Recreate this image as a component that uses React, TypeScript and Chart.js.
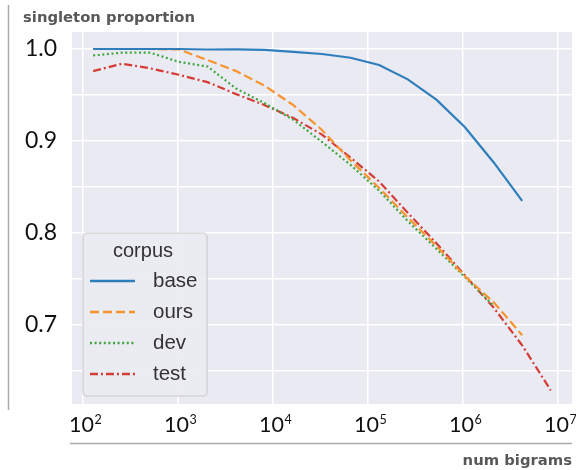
import React, { useEffect, useRef } from "react";
import { Chart, registerables } from "chart.js";

Chart.register(...registerables);

// number of bigrams (x values)
const nBigrams = [128, 256, 512, 1024, 2048, 4096, 8192, 16384, 32768, 65536, 131072, 262144, 524288, 1048576, 2097152, 4194304, 8388608];

// singleton proportion per corpus
const baseValues = [1.0, 1.0, 1.0, 1.0, 0.9995, 0.9997, 0.999, 0.997, 0.9946, 0.9905, 0.9826, 0.967, 0.945, 0.915, 0.877, 0.835];
const oursValues = [1.0, 1.0, 1.0, 0.9995, 0.988, 0.976, 0.96, 0.939, 0.912, 0.879, 0.849, 0.817, 0.786, 0.753, 0.725, 0.689];
const devValues = [0.993, 0.996, 0.996, 0.986, 0.981, 0.957, 0.941, 0.923, 0.899, 0.874, 0.846, 0.813, 0.783, 0.752, 0.721];
const testValues = [0.976, 0.984, 0.979, 0.972, 0.964, 0.951, 0.939, 0.925, 0.907, 0.882, 0.856, 0.822, 0.789, 0.754, 0.719, 0.678, 0.629];

const seriesNames = ["base", "ours", "dev", "test"];
const legendTitle = "corpus";
const yAxisTitle = "singleton proportion";
const xAxisTitle = "num bigrams";

// ticks
const xTickValues = [1e2, 1e3, 1e4, 1e5, 1e6, 1e7];
const xTickMantissa = "10";
const xTickExponents = ["2", "3", "4", "5", "6", "7"];
const yGridValues = [0.65, 0.7, 0.75, 0.8, 0.85, 0.9, 0.95, 1.0];
const yTickLabels = ["0.7", "0.8", "0.9", "1.0"];

const TICK_FONT = "Lato, 'DejaVu Sans', sans-serif";
const TITLE_FONT = "'DejaVu Sans', sans-serif";
const LEGEND_FONT = "'Liberation Sans', Arial, sans-serif";

const toPoints = (vals: number[]) => vals.map((v, i) => ({ x: nBigrams[i], y: v }));

const decorPlugin = {
  id: "decor",
  beforeDraw(chart: any) {
    const { ctx, chartArea: a } = chart;
    ctx.save();
    ctx.fillStyle = "#EAEAF2";
    ctx.fillRect(a.left, a.top, a.right - a.left, a.bottom - a.top);
    ctx.restore();
  },
  afterDraw(chart: any) {
    const { ctx, chartArea: a } = chart;
    const xs = chart.scales.x;
    ctx.save();

    // x tick labels with superscript exponents
    ctx.fillStyle = "#111";
    ctx.textBaseline = "alphabetic";
    xTickValues.forEach((v, i) => {
      const px = xs.getPixelForValue(v);
      ctx.font = `21.5px ${TICK_FONT}`;
      const w = ctx.measureText(xTickMantissa).width;
      ctx.textAlign = "left";
      ctx.fillText(xTickMantissa, px - w / 2 - 1.5, a.bottom + 28);
      ctx.font = `12.5px ${TICK_FONT}`;
      ctx.fillText(xTickExponents[i], px + w / 2 - 1, a.bottom + 20);
    });

    // axis titles
    ctx.fillStyle = "#585858";
    ctx.font = `bold 14.8px ${TITLE_FONT}`;
    ctx.textAlign = "left";
    ctx.fillText(yAxisTitle, a.left - 49, a.top - 10);
    ctx.textAlign = "right";
    ctx.fillText(xAxisTitle, a.right, a.bottom + 61);

    // decorative side lines
    ctx.strokeStyle = "#aaaaaa";
    ctx.lineWidth = 1.5;
    ctx.beginPath();
    ctx.moveTo(8.5, 5);
    ctx.lineTo(8.5, a.bottom + 6);
    ctx.stroke();
    ctx.beginPath();
    ctx.moveTo(a.left - 2, a.bottom + 39.5);
    ctx.lineTo(a.right, a.bottom + 39.5);
    ctx.stroke();

    // legend
    const lx = a.left + 11;
    const ly = a.top + 201;
    const lw = 124;
    const lh = 163;
    ctx.fillStyle = "rgba(234,234,242,0.92)";
    ctx.strokeStyle = "#cccccc";
    ctx.lineWidth = 1.2;
    ctx.beginPath();
    (ctx as any).roundRect(lx, ly, lw, lh, 4);
    ctx.fill();
    ctx.stroke();

    ctx.fillStyle = "#333";
    ctx.font = `20px ${LEGEND_FONT}`;
    ctx.textAlign = "center";
    ctx.textBaseline = "middle";
    ctx.fillText(legendTitle, lx + lw / 2 - 2, ly + 18);

    chart.data.datasets.forEach((ds: any, i: number) => {
      const cy = ly + 48 + i * 31;
      ctx.strokeStyle = ds.borderColor;
      ctx.lineWidth = ds.borderWidth + 0.3;
      ctx.setLineDash(ds.borderDash || []);
      ctx.beginPath();
      ctx.moveTo(lx + 7, cy);
      ctx.lineTo(lx + 52, cy);
      ctx.stroke();
      ctx.setLineDash([]);
      ctx.fillStyle = "#333";
      ctx.textAlign = "left";
      ctx.font = `20.5px ${LEGEND_FONT}`;
      ctx.fillText(ds.label, lx + 70, cy);
    });

    ctx.restore();
  },
};

export default function App() {
  const ref = useRef<HTMLCanvasElement | null>(null);

  useEffect(() => {
    document.body.style.margin = "0";
    if (!ref.current) return;
    const colors = ["#2f7ebc", "#f7942f", "#3fa63f", "#d43d36"];
    const dashes: number[][] = [[], [9, 4], [2, 2.6], [8, 3, 2, 3]];
    const values = [baseValues, oursValues, devValues, testValues];

    const chart = new Chart(ref.current, {
      type: "line",
      data: {
        datasets: seriesNames.map((name, i) => ({
          label: name,
          data: toPoints(values[i]),
          borderColor: colors[i],
          backgroundColor: colors[i],
          borderWidth: 2.2,
          borderDash: dashes[i],
          pointRadius: 0,
          tension: 0,
          fill: false,
        })),
      },
      options: {
        animation: false,
        responsive: false,
        devicePixelRatio: 1,
        layout: { padding: { top: 32, right: 4, left: 0, bottom: 0 } },
        plugins: {
          legend: { display: false },
          tooltip: { enabled: false },
          title: { display: false },
        },
        scales: {
          x: {
            type: "logarithmic",
            min: 76.6,
            max: 1.404e7,
            afterBuildTicks: (scale: any) => {
              scale.ticks = xTickValues.map((v) => ({ value: v }));
            },
            afterFit: (scale: any) => {
              scale.height = 66;
            },
            ticks: { display: false },
            grid: { color: "#ffffff", lineWidth: 1.5, drawTicks: false },
            border: { display: false },
          },
          y: {
            type: "linear",
            min: 0.6142,
            max: 1.0185,
            afterBuildTicks: (scale: any) => {
              scale.ticks = yGridValues.map((v) => ({ value: v }));
            },
            afterFit: (scale: any) => {
              scale.width = 72;
            },
            ticks: {
              padding: 15,
              color: "#111",
              font: { family: TICK_FONT, size: 23 },
              callback: (value: any) => {
                const s = Number(value).toFixed(1);
                return yTickLabels.includes(s) && Math.abs(Number(value) - Number(s)) < 1e-6 ? s : "";
              },
            },
            grid: { color: "#ffffff", lineWidth: 1.5, drawTicks: false },
            border: { display: false },
          },
        },
      },
      plugins: [decorPlugin],
    });
    return () => chart.destroy();
  }, []);

  return (
    <div style={{ position: "absolute", left: 0, top: 0, width: 576, height: 470 }}>
      <canvas ref={ref} width={576} height={470} style={{ width: 576, height: 470, display: "block" }} />
    </div>
  );
}
